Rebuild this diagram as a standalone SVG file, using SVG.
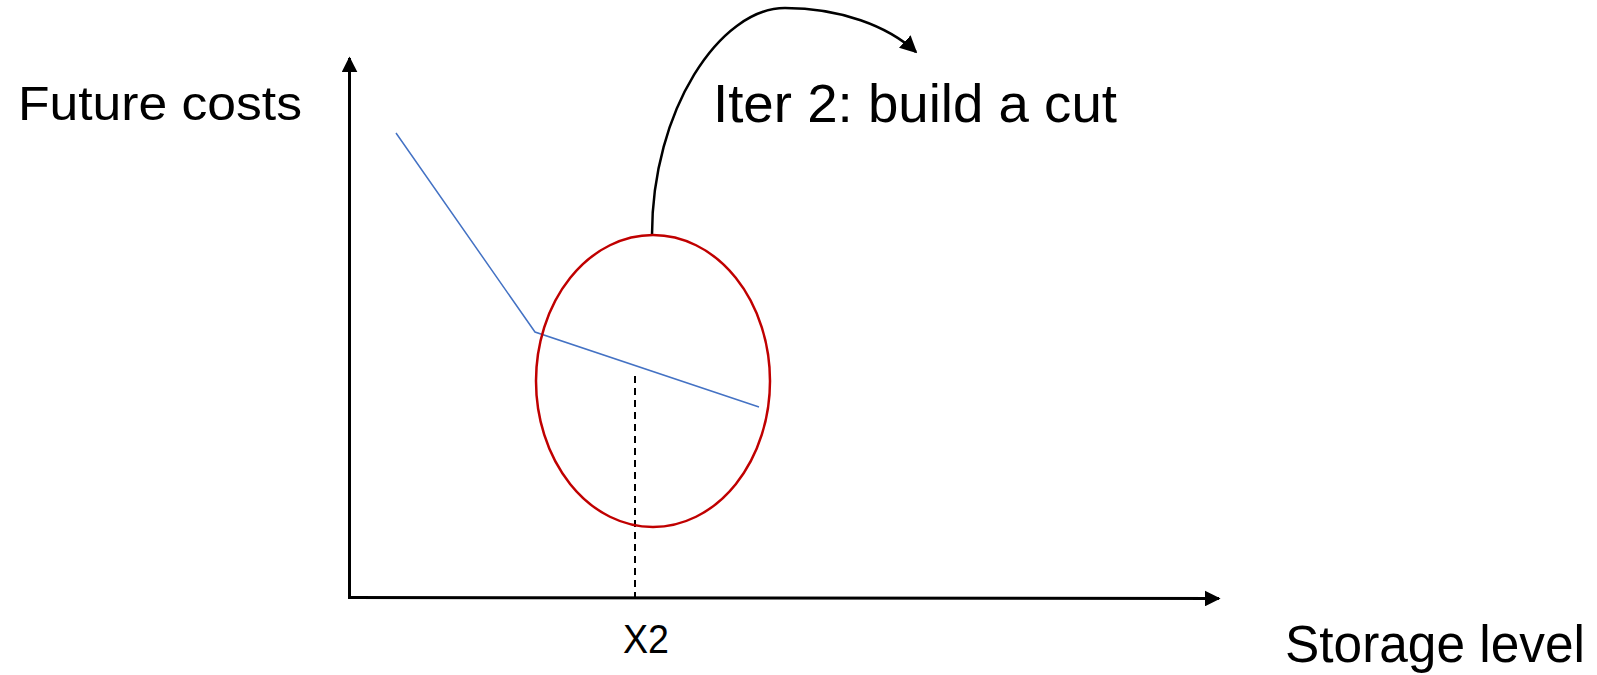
<svg xmlns="http://www.w3.org/2000/svg" width="1597" height="675" viewBox="0 0 1597 675">
<style>
.lbl{font-family:"Liberation Sans",Arial,sans-serif;fill:#000}
.axis{stroke:#000;stroke-width:3;fill:none}
</style>
<defs>
<marker id="ah" viewBox="0 0 10 10" refX="9" refY="5" markerUnits="userSpaceOnUse" markerWidth="16" markerHeight="16" orient="auto">
<path d="M0,0 L10,5 L0,10 Z" fill="#000"/>
</marker>
<marker id="ah2" viewBox="0 0 10 10" refX="9" refY="5" markerUnits="userSpaceOnUse" markerWidth="17" markerHeight="17" orient="auto">
<path d="M0,0 L10,5 L0,10 Z" fill="#000"/>
</marker>
</defs>
<rect width="1597" height="675" fill="#fff"/>
<g id="connectors">
<line class="axis" x1="349.5" y1="599" x2="349.5" y2="58" marker-end="url(#ah)"/>
<line class="axis" x1="348" y1="597.5" x2="1219" y2="598.5" marker-end="url(#ah)"/>
<polyline points="396,133 535,332 759,407" fill="none" stroke="#4472C4" stroke-width="1.5"/>
<line x1="635" y1="376" x2="635" y2="597" stroke="#000" stroke-width="2" stroke-dasharray="7,5"/>
<path d="M652,235 C652,110 720,8 785,8 C840,8 888,26 916,52" fill="none" stroke="#000" stroke-width="2.5" marker-end="url(#ah2)"/>
</g>
<g id="ellipse">
<ellipse cx="653" cy="381" rx="117" ry="146" fill="none" stroke="#C00000" stroke-width="2.5"/>
</g>
<g id="label-future">
<text class="lbl" x="18" y="120" font-size="49" textLength="284" lengthAdjust="spacingAndGlyphs">Future costs</text>
</g>
<g id="label-iter">
<text class="lbl" x="713" y="122" font-size="53" textLength="404" lengthAdjust="spacingAndGlyphs">Iter 2: build a cut</text>
</g>
<g id="label-x2">
<text class="lbl" x="623" y="653" font-size="40" textLength="46" lengthAdjust="spacingAndGlyphs">X2</text>
</g>
<g id="label-storage">
<text class="lbl" x="1285" y="662" font-size="51" textLength="300" lengthAdjust="spacingAndGlyphs">Storage level</text>
</g>
</svg>
